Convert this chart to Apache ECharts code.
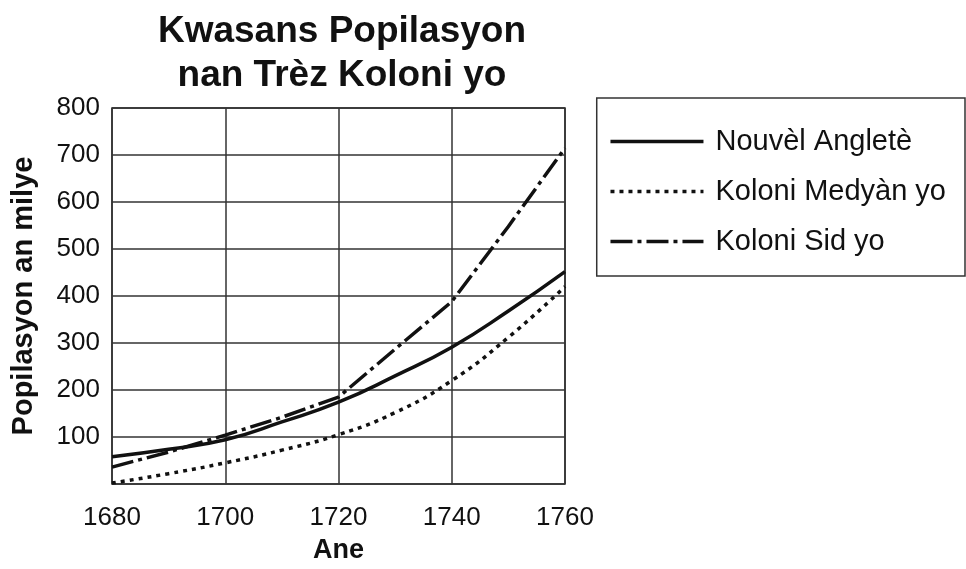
<!DOCTYPE html>
<html>
<head>
<meta charset="utf-8">
<script src="https://cdn.jsdelivr.net/npm/echarts@6/dist/echarts.min.js"></script>
<style>
  html, body { margin: 0; padding: 0; background: #fff; }
  #main { width: 966px; height: 569px; }
</style>
</head>
<body>
<div id="main"></div>
<script>
// done
var years = [1680, 1690, 1700, 1710, 1720, 1730, 1740, 1750, 1760];
var nouvelAnglete = [58, 74, 94, 132, 174, 230, 291, 368, 452];
var koloniMedyan = [2, 22, 45, 72, 105, 152, 220, 312, 420];
var koloniSid = [36, 68, 104, 142, 185, 287, 388, 548, 715];
var yTicks = [0, 100, 200, 300, 400, 500, 600, 700, 800];

(function () {
  const chart = echarts.init(document.getElementById('main'));
  var font = '"Liberation Sans", Arial, sans-serif';

  function pairs(vals) {
    return years.map(function (y, i) { return [y, vals[i]]; });
  }

  let option = {
    animation: false,
    textStyle: { fontFamily: font, color: '#111' },
    title: {
      text: 'Kwasans Popilasyon\nnan Trèz Koloni yo',
      left: 337,
      top: 5,
      textAlign: 'center',
      textStyle: {
        fontFamily: font,
        fontWeight: 'bold',
        fontSize: 37,
        lineHeight: 44,
        color: '#111'
      }
    },
    legend: {
      right: 1,
      top: 98,
      orient: 'vertical',
      padding: [29, 19, 20, 12],
      itemGap: 21,
      itemWidth: 93,
      itemHeight: 14,
      borderColor: '#333',
      borderWidth: 1.5,
      itemStyle: { opacity: 0 },
      lineStyle: { width: 3.5 },
      textStyle: { fontFamily: font, fontSize: 29, color: '#111', padding: [0, 0, 0, 7] },
      data: ['Nouvèl Angletè', 'Koloni Medyàn yo', 'Koloni Sid yo']
    },
    grid: {
      left: 112,
      right: 401,
      top: 108,
      bottom: 78,
      show: true,
      borderColor: '#222',
      borderWidth: 1.5
    },
    xAxis: {
      type: 'value',
      min: 1680,
      max: 1760,
      interval: 20,
      name: 'Ane',
      nameLocation: 'middle',
      nameGap: 53,
      nameTextStyle: { fontFamily: font, fontWeight: 'bold', fontSize: 27, color: '#111' },
      axisLine: { show: false },
      axisTick: { show: false },
      axisLabel: {
        fontFamily: font, fontSize: 26, color: '#111', margin: 21,
        formatter: function (v) { return String(v); }
      },
      splitLine: { lineStyle: { color: '#333', width: 1.5 } }
    },
    yAxis: {
      type: 'value',
      min: yTicks[0],
      max: yTicks[yTicks.length - 1],
      interval: 100,
      name: 'Popilasyon an milye',
      nameLocation: 'middle',
      nameGap: 74,
      nameTextStyle: { fontFamily: font, fontWeight: 'bold', fontSize: 29, color: '#111' },
      axisLine: { show: false },
      axisTick: { show: false },
      axisLabel: {
        fontFamily: font, fontSize: 26, color: '#111', margin: 12,
        formatter: function (v) { return v === 0 ? '' : String(v); }
      },
      splitLine: { lineStyle: { color: '#333', width: 1.5 } }
    },
    series: [
      {
        name: 'Nouvèl Angletè',
        type: 'line',
        symbol: 'none',
        smooth: true,
        data: pairs(nouvelAnglete),
        lineStyle: { color: '#111', width: 3.5, type: 'solid' },
        itemStyle: { color: '#111' }
      },
      {
        name: 'Koloni Medyàn yo',
        type: 'line',
        symbol: 'none',
        smooth: true,
        data: pairs(koloniMedyan),
        lineStyle: { color: '#111', width: 3.5, type: [4, 5] },
        itemStyle: { color: '#111' }
      },
      {
        name: 'Koloni Sid yo',
        type: 'line',
        symbol: 'none',
        smooth: false,
        data: pairs(koloniSid),
        lineStyle: { color: '#111', width: 3.5, type: [22, 5, 4, 5] },
        itemStyle: { color: '#111' }
      }
    ]
  };

  chart.setOption(option);
  window.addEventListener('resize', function () {
    chart.resize();
  });
})();
</script>
</body>
</html>
